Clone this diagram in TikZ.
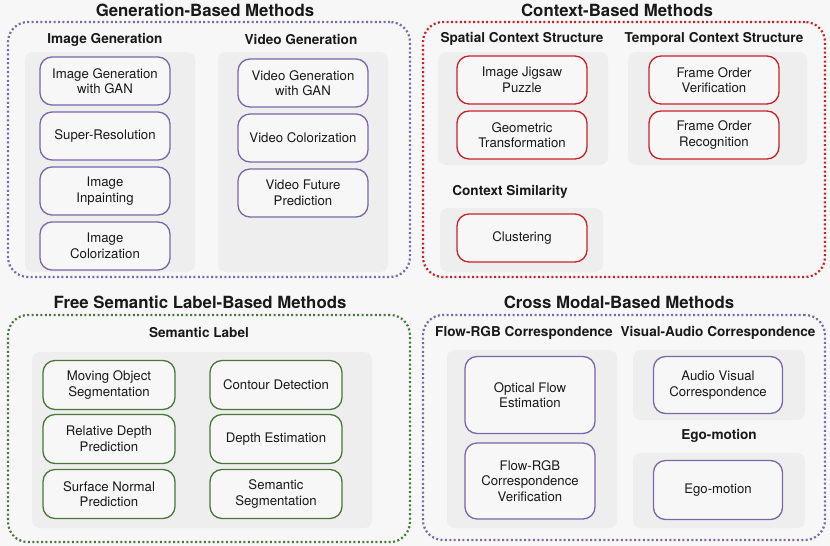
\documentclass[tikz,border=0pt]{standalone}
\usepackage{fontspec}
\setmainfont{TeX Gyre Heros}
\usepackage{xcolor}
\definecolor{mypurple}{RGB}{122,104,170}
\definecolor{myred}{RGB}{200,34,40}
\definecolor{mygreen}{RGB}{74,120,58}
\definecolor{mybg}{RGB}{247,247,247}
\definecolor{mypanel}{RGB}{238,238,238}
\definecolor{mytext}{RGB}{25,25,25}
\usepackage{tikz}

\begin{document}
\begin{tikzpicture}[x=1pt,y=-1pt,text=mytext]
	\tikzstyle{grp}=[draw,line width=2.2pt,dash pattern=on 2pt off 2.4pt,rounded corners=20pt,inner sep=0pt];
	\tikzstyle{pnl}=[fill=mypanel,rounded corners=8pt,inner sep=0pt,minimum width=170pt];
	\tikzstyle{meth}=[draw,line width=1.3pt,fill=mybg,rounded corners=12pt,align=center,inner sep=0pt,minimum width=130pt,minimum height=48pt,font=\fontsize{13.2}{15.5}\selectfont];
	\tikzstyle{ttl}=[font=\fontsize{16.8}{18}\selectfont\bfseries];
	\tikzstyle{sub}=[font=\fontsize{13.6}{15}\selectfont\bfseries];
	\fill[mybg] (0,0) rectangle (830,546);
	\useasboundingbox (0,0) rectangle (830,546);
	% outer groups
	\node[grp,draw=mypurple,minimum width=402pt,minimum height=255pt] (gen) at (209,149.5) {};
	\node[grp,draw=myred,minimum width=402pt,minimum height=255pt] (ctx) at (624,149.5) {};
	\node[grp,draw=mygreen,minimum width=402pt,minimum height=227pt] (sem) at (209,428.5) {};
	\node[grp,draw=mypurple,minimum width=402pt,minimum height=225pt] (crs) at (624,427.5) {};
	\node[ttl] (gent) at (205,10) {Generation-Based Methods};
	\node[ttl] (ctxt) at (617,10) {Context-Based Methods};
	\node[ttl] (semt) at (200,302) {Free Semantic Label-Based Methods};
	\node[ttl] (crst) at (619,302) {Cross Modal-Based Methods};
	% panels
	\node[pnl,minimum height=220pt] (igp) at (110,162) {};
	\node[pnl,minimum height=220pt] (vgp) at (303,162) {};
	\node[pnl,minimum height=113pt] (scp) at (523,108.5) {};
	\node[pnl,minimum width=179pt,minimum height=113pt] (tcp) at (717.5,108.5) {};
	\node[pnl,minimum width=163pt,minimum height=64pt] (csp) at (521.5,240) {};
	\node[pnl,minimum width=340pt,minimum height=176pt] (slp) at (202,440) {};
	\node[pnl,minimum height=178pt] (frp) at (532,439) {};
	\node[pnl,minimum width=172pt,minimum height=70pt] (vap) at (719,385) {};
	\node[pnl,minimum width=172pt,minimum height=75pt] (egp) at (719,490.5) {};
	% subtitles
	\node[sub] (igs) at (105,40) {Image Generation};
	\node[sub] (vgs) at (301,40) {Video Generation};
	\node[sub] (scs) at (522,39) {Spatial Context Structure};
	\node[sub] (tcs) at (714,39) {Temporal Context Structure};
	\node[sub] (css) at (510,192) {Context Similarity};
	\node[sub] (sls) at (199,333) {Semantic Label};
	\node[sub] (frs) at (524,333) {Flow-RGB Correspondence};
	\node[sub] (vas) at (718,333) {Visual-Audio Correspondence};
	\node[sub] (egs) at (719,436) {Ego-motion};
	% generation
	\node[meth,draw=mypurple] (ig1) at (105,81) {Image Generation\\with GAN};
	\node[meth,draw=mypurple] (ig2) at (105,136) {Super-Resolution};
	\node[meth,draw=mypurple] (ig3) at (105,191) {Image\\Inpainting};
	\node[meth,draw=mypurple] (ig4) at (105,246) {Image\\Colorization};
	\node[meth,draw=mypurple] (vg1) at (303,83) {Video Generation\\with GAN};
	\node[meth,draw=mypurple] (vg2) at (303,138) {Video Colorization};
	\node[meth,draw=mypurple] (vg3) at (303,193) {Video Future\\Prediction};
	% context
	\node[meth,draw=myred] (sc1) at (522,80) {Image Jigsaw\\Puzzle};
	\node[meth,draw=myred] (sc2) at (522,135) {Geometric\\Transformation};
	\node[meth,draw=myred] (tc1) at (714,80) {Frame Order\\Verification};
	\node[meth,draw=myred] (tc2) at (714,135) {Frame Order\\Recognition};
	\node[meth,draw=myred] (cs1) at (522,238) {Clustering};
	% semantic label
	\node[meth,draw=mygreen,minimum width=132pt,minimum height=49pt] (sl1) at (109,385) {Moving Object\\Segmentation};
	\node[meth,draw=mygreen,minimum width=132pt,minimum height=49pt] (sl2) at (109,439) {Relative Depth\\Prediction};
	\node[meth,draw=mygreen,minimum width=132pt,minimum height=49pt] (sl3) at (109,494) {Surface Normal\\Prediction};
	\node[meth,draw=mygreen,minimum width=132pt,minimum height=49pt] (sl4) at (276,385) {Contour Detection};
	\node[meth,draw=mygreen,minimum width=132pt,minimum height=49pt] (sl5) at (276,439) {Depth Estimation};
	\node[meth,draw=mygreen,minimum width=132pt,minimum height=49pt] (sl6) at (276,494) {Semantic\\Segmentation};
	% cross modal
	\node[meth,draw=mypurple,minimum height=77pt] (fr1) at (530,395) {Optical Flow\\Estimation};
	\node[meth,draw=mypurple,minimum height=76pt] (fr2) at (530,481) {Flow-RGB\\Correspondence\\Verification};
	\node[meth,draw=mypurple,minimum width=129pt,minimum height=57pt] (va1) at (718,385) {Audio Visual\\Correspondence};
	\node[meth,draw=mypurple,minimum width=129pt,minimum height=59pt] (eg1) at (718,490) {Ego-motion};
\end{tikzpicture}
\end{document}
